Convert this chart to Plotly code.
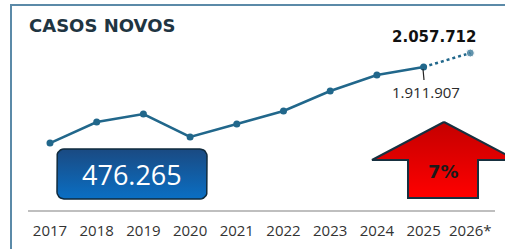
import math
import plotly.graph_objects as go

# ---- data ----
years = ["2017", "2018", "2019", "2020", "2021", "2022", "2023", "2024", "2025", "2026*"]
casos = [1120000, 1339000, 1422000, 1183000, 1318000, 1454000, 1662000, 1829000, 1911907, 2057712]
label_2025 = "1.911.907"
label_2026 = "2.057.712"
box_text = "476.265"
pct_text = "7%"
title_text = "CASOS NOVOS"

W, H = 505, 249
PLOT_BOTTOM = 211  # pixel of the axis line
LINE_COLOR = "#21678b"

def px(x):
    return x / W

def py(y):
    return (PLOT_BOTTOM - y) / PLOT_BOTTOM

fig = go.Figure()

fig.add_trace(go.Scatter(
    x=years[:9], y=casos[:9], mode="lines+markers",
    line=dict(color=LINE_COLOR, width=2.5),
    marker=dict(size=7, color=LINE_COLOR),
    hoverinfo="skip", showlegend=False, cliponaxis=False,
))
fig.add_trace(go.Scatter(
    x=years[8:], y=casos[8:], mode="lines+markers",
    line=dict(color=LINE_COLOR, width=2.5, dash="dot"),
    marker=dict(size=[0, 8], color=LINE_COLOR),
    hoverinfo="skip", showlegend=False, cliponaxis=False,
))

def rounded_rect(x0, y0, x1, y1, r, n=6):
    pts = []
    corners = [(x1 - r, y0 + r, -90, 0), (x1 - r, y1 - r, 0, 90),
               (x0 + r, y1 - r, 90, 180), (x0 + r, y0 + r, 180, 270)]
    for cx, cy, a0, a1 in corners:
        for k in range(n + 1):
            a = math.radians(a0 + (a1 - a0) * k / n)
            pts.append((cx + r * math.cos(a), cy + r * math.sin(a)))
    pts.append(pts[0])
    return [p[0] for p in pts], [p[1] for p in pts]

bx, by = rounded_rect(57, 149, 207, 199, 7)
fig.add_trace(go.Scatter(
    x=bx, y=by, xaxis="x2", yaxis="y2", mode="lines", fill="toself",
    line=dict(color="#0f2a3d", width=1.5),
    fillgradient=dict(type="vertical", colorscale=[[0, "#0a6fc4"], [1, "#1a4a82"]]),
    hoverinfo="skip", showlegend=False,
))

ax = [444, 516, 478, 478, 408, 408, 372, 444]
ay = [122, 160, 160, 198, 198, 160, 160, 122]
fig.add_trace(go.Scatter(
    x=ax, y=ay, xaxis="x2", yaxis="y2", mode="lines", fill="toself",
    line=dict(color="#17303f", width=2),
    fillgradient=dict(type="vertical", colorscale=[[0, "#ff0000"], [1, "#c40000"]]),
    hoverinfo="skip", showlegend=False,
))

shapes = [
    dict(type="line", xref="paper", yref="paper", x0=px(11), x1=px(11), y0=py(5), y1=py(260),
         line=dict(color="#5b8aa8", width=2)),
    dict(type="line", xref="paper", yref="paper", x0=px(10), x1=px(510), y0=py(5), y1=py(5),
         line=dict(color="#5b8aa8", width=2)),
    dict(type="line", xref="paper", yref="paper", x0=px(28), x1=px(495), y0=0, y1=0,
         line=dict(color="#aaaaaa", width=1.5)),
    dict(type="line", xref="x2", yref="y2", x0=423, x1=424, y0=69, y1=80,
         line=dict(color="#222222", width=1.2)),
]

i25 = years.index("2025")
i26 = years.index("2026*")

annotations = [
    dict(text=f"<b>{title_text}</b>", xref="paper", yref="paper", x=px(27), y=py(25),
         xanchor="left", yanchor="middle", showarrow=False,
         font=dict(family="DejaVu Sans", size=18, color="#1f3542")),
    dict(text=f"<b>{label_2026}</b>", x=i26, y=casos[i26], xshift=-36, yshift=16,
         xanchor="center", yanchor="middle", showarrow=False,
         font=dict(family="DejaVu Sans", size=15, color="#111111")),
    dict(text=label_2025, x=i25, y=casos[i25], xshift=2, yshift=-25,
         xanchor="center", yanchor="middle", showarrow=False,
         font=dict(family="Open Sans", size=15, color="#2a2a2a")),
    dict(text=box_text, xref="x2", yref="y2", x=132, y=174,
         xanchor="center", yanchor="middle", showarrow=False,
         font=dict(family="Open Sans", size=27, color="#ffffff")),
    dict(text=f"<b>{pct_text}</b>", xref="x2", yref="y2", x=443, y=171,
         xanchor="center", yanchor="middle", showarrow=False,
         font=dict(family="DejaVu Sans", size=18, color="#1a1a1a")),
]

y1 = 1911907 + 67 * 10415
y0 = y1 - PLOT_BOTTOM * 10415

fig.update_layout(
    width=W, height=H,
    margin=dict(l=0, r=0, t=0, b=H - PLOT_BOTTOM),
    paper_bgcolor="white", plot_bgcolor="white",
    xaxis=dict(type="category", categoryorder="array", categoryarray=years,
               range=[-50 / 46.7, (W - 50) / 46.7], showgrid=False, zeroline=False,
               showline=False, ticks="outside", ticklen=6, tickcolor="rgba(0,0,0,0)",
               tickfont=dict(family="Open Sans", size=15, color="#333333")),
    yaxis=dict(range=[y0, y1], visible=False),
    xaxis2=dict(range=[0, W], overlaying="x", visible=False),
    yaxis2=dict(range=[PLOT_BOTTOM, 0], overlaying="y", visible=False),
    shapes=shapes, annotations=annotations,
)

fig.write_html("out.html", config={"displayModeBar": False},
               post_script="document.body.style.margin='0';document.body.style.overflow='hidden';")
